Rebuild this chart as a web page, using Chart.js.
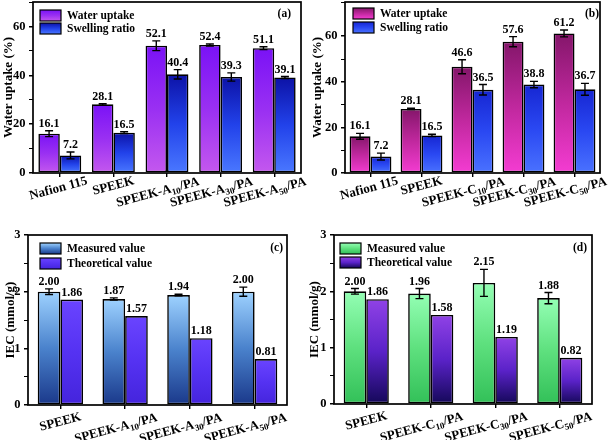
<!DOCTYPE html>
<html>
<head>
<meta charset="utf-8">
<script src="https://cdn.jsdelivr.net/npm/chart.js@4.4.1/dist/chart.umd.min.js"></script>
<style>
  body { margin: 0; background: #fff; }
  #wrap { position: relative; width: 614px; height: 440px; }
  canvas { position: absolute; }
</style>
</head>
<body>
<div id="wrap">
  <canvas id="ca" width="307" height="220" style="left:0;top:0"></canvas>
  <canvas id="cb" width="307" height="220" style="left:307px;top:0"></canvas>
  <canvas id="cc" width="307" height="220" style="left:0;top:220px"></canvas>
  <canvas id="cd" width="307" height="220" style="left:307px;top:220px"></canvas>
</div>
<script>
// dados ({..} = subscrito)
const catsA = ['Nafion 115', 'SPEEK', 'SPEEK-A{10}/PA', 'SPEEK-A{30}/PA', 'SPEEK-A{50}/PA'];
const waterA = [16.1, 28.1, 52.1, 52.4, 51.1];
const waterErrA = [1.2, 0.3, 2.0, 0.4, 0.6];
const swellA = [7.2, 16.5, 40.4, 39.3, 39.1];
const swellErrA = [1.4, 0.4, 1.9, 1.7, 0.4];

const catsB = ['Nafion 115', 'SPEEK', 'SPEEK-C{10}/PA', 'SPEEK-C{30}/PA', 'SPEEK-C{50}/PA'];
const waterB = [16.1, 28.1, 46.6, 57.6, 61.2];
const waterErrB = [1.3, 0.3, 3.1, 2.2, 1.5];
const swellB = [7.2, 16.5, 36.5, 38.8, 36.7];
const swellErrB = [1.5, 0.5, 2.3, 1.4, 2.6];

const catsC = ['SPEEK', 'SPEEK-A{10}/PA', 'SPEEK-A{30}/PA', 'SPEEK-A{50}/PA'];
const measC = [2.00, 1.87, 1.94, 2.00];
const measErrC = [0.05, 0.02, 0.015, 0.08];
const theoC = [1.86, 1.57, 1.18, 0.81];

const catsD = ['SPEEK', 'SPEEK-C{10}/PA', 'SPEEK-C{30}/PA', 'SPEEK-C{50}/PA'];
const measD = [2.00, 1.96, 2.15, 1.88];
const measErrD = [0.05, 0.09, 0.24, 0.10];
const theoD = [1.86, 1.58, 1.19, 0.82];

const yTicksAB = [0, 20, 40, 60];
const yTicksCD = [0, 1, 2, 3];

const SERIF = '"Liberation Serif", "Times New Roman", serif';

// gradiente vertical por barra (topo -> base)
const barGrad = (stops) => (ctx) => {
  const chart = ctx.chart;
  if (ctx.type !== 'data' || !chart.chartArea) return stops[stops.length - 1];
  const ys = chart.scales.y;
  const v = ctx.parsed ? ctx.parsed.y : ctx.raw;
  const top = ys.getPixelForValue(v);
  const bot = ys.getPixelForValue(0);
  const g = chart.ctx.createLinearGradient(0, top, 0, Math.max(bot, top + 1));
  stops.forEach((s, i) => g.addColorStop(i / (stops.length - 1), s));
  return g;
};

const parseLabel = (txt) => {
  const parts = [];
  txt.split(/(\{[^}]*\})/).forEach(p => {
    if (!p) return;
    if (p[0] === '{') parts.push({ t: p.slice(1, -1), sub: true });
    else parts.push({ t: p, sub: false });
  });
  return parts;
};

const panelPlugin = {
  id: 'panel',
  afterDatasetsDraw(chart) {
    const o = chart.options.plugins.panel;
    const c = chart.ctx;
    const ys = chart.scales.y;
    const area = chart.chartArea;

    // barras de erro e rótulos
    chart.data.datasets.forEach((ds, di) => {
      const meta = chart.getDatasetMeta(di);
      meta.data.forEach((bar, i) => {
        const v = ds.data[i];
        let top = bar.y;
        c.save();
        if (ds.errors) {
          const e = ds.errors[i];
          const y1 = ys.getPixelForValue(v + e);
          const y2 = ys.getPixelForValue(v - e);
          c.strokeStyle = '#000';
          c.lineWidth = 1.4;
          c.beginPath();
          c.moveTo(bar.x, y1); c.lineTo(bar.x, y2);
          c.moveTo(bar.x - 4, y1); c.lineTo(bar.x + 4, y1);
          c.moveTo(bar.x - 4, y2); c.lineTo(bar.x + 4, y2);
          c.stroke();
          top = Math.min(top, y1);
        }
        c.fillStyle = '#000';
        c.font = 'bold 12px ' + SERIF;
        c.textAlign = 'center';
        c.textBaseline = 'bottom';
        c.fillText(v.toFixed(o.digits), bar.x, top - 1);
        c.restore();
      });
    });

    // moldura
    c.save();
    c.strokeStyle = '#000';
    c.lineWidth = 1.7;
    c.strokeRect(area.left, area.top, area.right - area.left, area.bottom - area.top);
    c.restore();

    // legenda
    c.save();
    o.legend.forEach((item, i) => {
      const x = o.legendX, y = o.legendY + i * o.legendGap;
      const g = c.createLinearGradient(0, y, 0, y + 11);
      item.colors.forEach((s, k) => g.addColorStop(k / (item.colors.length - 1), s));
      c.fillStyle = g;
      c.fillRect(x, y, 21, 11);
      c.strokeStyle = '#000';
      c.lineWidth = 1.2;
      c.strokeRect(x, y, 21, 11);
      c.fillStyle = '#000';
      c.font = 'bold 11.5px ' + SERIF;
      c.textAlign = 'left';
      c.textBaseline = 'middle';
      c.fillText(item.text, x + 27, y + 6);
    });
    c.font = 'bold 11.5px ' + SERIF;
    c.textAlign = 'right';
    c.textBaseline = 'middle';
    c.fillText(o.letter, o.letterX, o.letterY);
    c.restore();
  },
  afterDraw(chart) {
    const o = chart.options.plugins.panel;
    const c = chart.ctx;
    const xs = chart.scales.x;
    const area = chart.chartArea;
    const big = 'bold 13px ' + SERIF;
    const small = 'bold 9px ' + SERIF;
    chart.data.labels.forEach((lab, i) => {
      const parts = parseLabel(lab);
      let w = 0;
      parts.forEach(p => { c.font = p.sub ? small : big; p.w = c.measureText(p.t).width; w += p.w; });
      // rótulos longos descem e deslocam-se para a esquerda, como no original
      const cx = xs.getPixelForValue(i) - 0.3 * Math.max(0, w - 55);
      const cy = area.bottom + o.labelDy + 0.15 * (w - 42);
      c.save();
      c.translate(cx, cy);
      c.rotate(-15 * Math.PI / 180);
      c.fillStyle = '#000';
      c.textAlign = 'left';
      c.textBaseline = 'middle';
      let x = -w / 2;
      parts.forEach(p => {
        c.font = p.sub ? small : big;
        c.fillText(p.t, x, p.sub ? 4 : 0);
        x += p.w;
      });
      c.restore();
    });
  }
};

const makePanel = (id, cfg) => {
  new Chart(document.getElementById(id), {
    type: 'bar',
    data: {
      labels: cfg.labels,
      datasets: cfg.series.map(s => ({
        label: s.text,
        data: s.data,
        errors: s.errors,
        backgroundColor: barGrad(s.colors),
        borderColor: '#000',
        borderWidth: 1.6,
        borderSkipped: false,
        barPercentage: 1,
        categoryPercentage: cfg.catPct
      }))
    },
    options: {
      responsive: false,
      animation: false,
      events: [],
      devicePixelRatio: 1,
      layout: { padding: { left: 0, right: cfg.padRight, top: cfg.padTop, bottom: 0 } },
      scales: {
        x: {
          offset: true,
          grid: { display: true, drawOnChartArea: false, drawTicks: true, tickLength: 4, color: '#000', lineWidth: 1.4, offset: false },
          border: { display: false },
          ticks: { display: false },
          afterFit: (s) => { s.height = cfg.xHeight; s.paddingLeft = 0; s.paddingRight = 0; }
        },
        y: {
          min: 0,
          max: cfg.yMax,
          grid: {
            display: true, drawOnChartArea: false, drawTicks: true, tickLength: 4, color: '#000',
            lineWidth: (ctx) => cfg.yTicks.includes(ctx.tick && ctx.tick.value) ? 1.5 : 1
          },
          border: { display: false },
          ticks: {
            stepSize: cfg.yStep,
            padding: 3.5,
            color: '#000',
            font: { family: SERIF, weight: 'bold', size: 12.5 },
            callback: (v) => cfg.yTicks.includes(v) ? String(v) : ''
          },
          title: {
            display: true,
            text: cfg.yTitle,
            color: '#000',
            font: { family: SERIF, weight: 'bold', size: 13 },
            padding: { top: cfg.titlePad, bottom: 0 }
          },
          afterFit: (s) => { s.width = cfg.yWidth; s.paddingTop = 0; s.paddingBottom = 0; }
        }
      },
      plugins: {
        legend: { display: false },
        tooltip: { enabled: false },
        panel: {
          digits: cfg.digits,
          legend: cfg.series,
          legendX: cfg.legendX,
          legendY: cfg.legendY,
          legendGap: cfg.legendGap,
          letter: cfg.letter,
          letterX: cfg.letterX,
          letterY: cfg.letterY,
          labelDy: cfg.labelDy
        }
      }
    },
    plugins: [panelPlugin]
  });
};

makePanel('ca', {
  labels: catsA,
  series: [
    { text: 'Water uptake', data: waterA, errors: waterErrA, colors: ['#7a12f6', '#9a30f2', '#c458ee'] },
    { text: 'Swelling ratio', data: swellA, errors: swellErrA, colors: ['#0c12a6', '#2242ea', '#4a78ff'] }
  ],
  catPct: 0.8, yMax: 70, yStep: 10, yTicks: yTicksAB, yTitle: 'Water uptake (%)', digits: 1,
  yWidth: 33, xHeight: 47, padRight: 6, padTop: 2, titlePad: 1,
  legendX: 40, legendY: 10, legendGap: 13, letter: '(a)', letterX: 291, letterY: 14,
  labelDy: 13
});

makePanel('cb', {
  labels: catsB,
  series: [
    { text: 'Water uptake', data: waterB, errors: waterErrB, colors: ['#84166a', '#c0289e', '#f43cd2'] },
    { text: 'Swelling ratio', data: swellB, errors: swellErrB, colors: ['#1626d2', '#2a48f2', '#4a72ff'] }
  ],
  catPct: 0.82, yMax: 75, yStep: 10, yTicks: yTicksAB, yTitle: 'Water uptake (%)', digits: 1,
  yWidth: 38, xHeight: 47, padRight: 14, padTop: 2, titlePad: 3,
  legendX: 46, legendY: 8, legendGap: 14, letter: '(b)', letterX: 292, letterY: 14,
  labelDy: 13
});

makePanel('cc', {
  labels: catsC,
  series: [
    { text: 'Measured value', data: measC, errors: measErrC, colors: ['#9ed2ff', '#4a82cc', '#1a388a'] },
    { text: 'Theoretical value', data: theoC, colors: ['#6a44ff', '#5532f2', '#4424dc'] }
  ],
  catPct: 0.7, yMax: 3, yStep: 0.5, yTicks: yTicksCD, yTitle: 'IEC (mmol/g)', digits: 2,
  yWidth: 28, xHeight: 35, padRight: 20, padTop: 15, titlePad: 3,
  legendX: 40, legendY: 23, legendGap: 15, letter: '(c)', letterX: 283, letterY: 28,
  labelDy: 17
});

makePanel('cd', {
  labels: catsD,
  series: [
    { text: 'Measured value', data: measD, errors: measErrD, colors: ['#94ffb4', '#5ee07e', '#32c058'] },
    { text: 'Theoretical value', data: theoD, colors: ['#9042e6', '#5a22c8', '#140858'] }
  ],
  catPct: 0.7, yMax: 3, yStep: 0.5, yTicks: yTicksCD, yTitle: 'IEC (mmol/g)', digits: 2,
  yWidth: 27, xHeight: 36, padRight: 22, padTop: 15, titlePad: 0,
  legendX: 33, legendY: 23, legendGap: 14, letter: '(d)', letterX: 280, letterY: 28,
  labelDy: 17
});
</script>
</body>
</html>
